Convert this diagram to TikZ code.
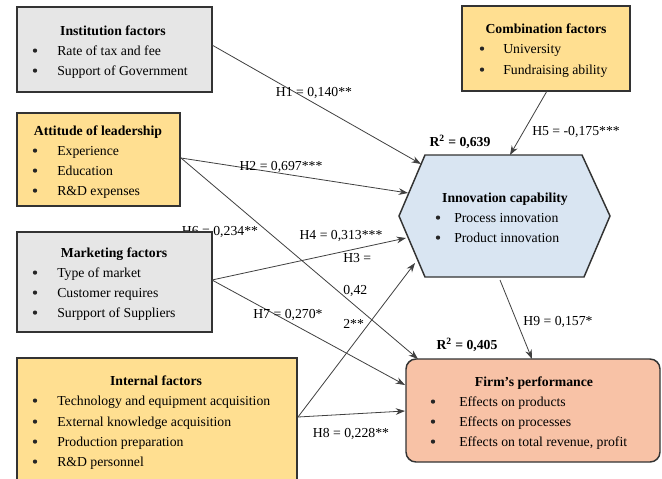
\documentclass[tikz,border=0pt]{standalone}
\usepackage{fontspec}
\setmainfont{Liberation Serif}
\usetikzlibrary{arrows.meta,fit}
\definecolor{gfill}{HTML}{E6E6E6}
\definecolor{ofill}{HTML}{FFDF91}
\definecolor{bfill}{HTML}{D9E5F2}
\definecolor{sfill}{HTML}{F8C2A6}
\definecolor{edge}{HTML}{333333}
\definecolor{ln}{HTML}{404040}
\begin{document}
\begin{tikzpicture}[x=0.75pt,y=-0.75pt, font=\fontsize{10.3}{12}\selectfont,
 box/.style={draw=edge, line width=1.1pt, inner sep=0pt},
 gbox/.style={box, fill=gfill},
 obox/.style={box, fill=ofill},
 ttl/.style={anchor=base, inner sep=0pt, font=\fontsize{10.3}{12}\selectfont\bfseries},
 itm/.style={anchor=base west, inner sep=0pt},
 bul/.style={circle, fill=black!85, inner sep=0pt, minimum size=3.2pt, yshift=3.3pt},
 lab/.style={anchor=base, inner sep=0pt},
 labl/.style={anchor=base west, inner sep=0pt},
 conn/.style={draw=ln, line width=0.6pt, -{Stealth[length=7pt,width=5pt]}}]
\useasboundingbox (0,0) rectangle (662,479);
\clip (0,0) rectangle (662,479);
\fill[white] (0,0) rectangle (662,479);

% label partly hidden by the marketing box
\node[lab] (h6) at (220,235) {H6 = 0,234**};

% boxes
\node[gbox, fit={(17,7) (212,92)}] (inst) {};
\node[obox, fit={(17,113) (180,206)}] (att) {};
\node[gbox, fit={(17,232) (212,332)}] (mkt) {};
\node[obox, fit={(17,358) (297,530)}] (intl) {};
\node[obox, fit={(462,6) (630,91)}] (comb) {};
\node[box, fill=sfill, rounded corners=7.5pt, fit={(406,359) (660,462)}] (firm) {};
\draw[box, fill=bfill] (425,155) -- (582,155) -- (610,216) -- (584,277) -- (425,277) -- (399,216) -- cycle;
\node[inner sep=0pt, fit={(399,155) (610,277)}] (innov) {};

% Institution
\node[ttl] (t1) at (113,35) {Institution factors};
\node[bul] (b1a) at (35,55) {};
\node[itm] (i1a) at (57,55) {Rate of tax and fee};
\node[bul] (b1b) at (35,75) {};
\node[itm] (i1b) at (57,75) {Support of Government};

% Attitude
\node[ttl] (t2) at (98,135) {Attitude of leadership};
\node[bul] (b2a) at (35,155) {};
\node[itm] (i2a) at (57,155) {Experience};
\node[bul] (b2b) at (35,175) {};
\node[itm] (i2b) at (57,175) {Education};
\node[bul] (b2c) at (35,195) {};
\node[itm] (i2c) at (57,195) {R\&D expenses};

% Marketing
\node[ttl] (t3) at (114,257) {Marketing factors};
\node[bul] (b3a) at (35,277) {};
\node[itm] (i3a) at (57,277) {Type of market};
\node[bul] (b3b) at (35,297) {};
\node[itm] (i3b) at (57,297) {Customer requires};
\node[bul] (b3c) at (35,317) {};
\node[itm] (i3c) at (57,317) {Surpport of Suppliers};

% Internal
\node[ttl] (t4) at (156,385) {Internal factors};
\node[bul] (b4a) at (35,405) {};
\node[itm] (i4a) at (57,405) {Technology and equipment acquisition};
\node[bul] (b4b) at (35,426) {};
\node[itm] (i4b) at (57,426) {External knowledge acquisition};
\node[bul] (b4c) at (35,446) {};
\node[itm] (i4c) at (57,446) {Production preparation};
\node[bul] (b4d) at (35,466) {};
\node[itm] (i4d) at (57,466) {R\&D personnel};

% Combination
\node[ttl] (t5) at (546,33) {Combination factors};
\node[bul] (b5a) at (482,53) {};
\node[itm] (i5a) at (503,53) {University};
\node[bul] (b5b) at (482,74) {};
\node[itm] (i5b) at (503,74) {Fundraising ability};

% Innovation
\node[ttl] (t6) at (505,202) {Innovation capability};
\node[bul] (b6a) at (438,222) {};
\node[itm] (i6a) at (454,222) {Process innovation};
\node[bul] (b6b) at (438,242) {};
\node[itm] (i6b) at (454,242) {Product innovation};

% Firm
\node[ttl] (t7) at (534,386) {Firm's performance};
\node[bul] (b7a) at (433,406) {};
\node[itm] (i7a) at (459,406) {Effects on products};
\node[bul] (b7b) at (433,426) {};
\node[itm] (i7b) at (459,426) {Effects on processes};
\node[bul] (b7c) at (433,446) {};
\node[itm] (i7c) at (459,446) {Effects on total revenue, profit};

% connector end points
\coordinate (s1) at (212,45);
\coordinate (s2) at (181,158);
\coordinate (s4) at (212,280);
\coordinate (s3) at (298,417);
\coordinate (s5) at (547,91);
\coordinate (s9) at (500,280);
\coordinate (e1) at (421,164);
\coordinate (e2) at (408,193);
\coordinate (e6) at (418,359);
\coordinate (e4) at (406,238);
\coordinate (e7) at (405,385);
\coordinate (e3) at (415,263);
\coordinate (e8) at (405,411);
\coordinate (e5) at (510,155);
\coordinate (e9) at (532,359);

\draw[conn] (s1) -- (e1);
\draw[conn] (s2) -- (e2);
\draw[conn] (s2) -- (e6);
\draw[conn] (s4) -- (e4);
\draw[conn] (s4) -- (e7);
\draw[conn] (s3) -- (e3);
\draw[conn] (s3) -- (e8);
\draw[conn] (s5) -- (e5);
\draw[conn] (s9) -- (e9);

% labels
\node[lab] (h1) at (314,96) {H1 = 0,140**};
\node[lab] (h2) at (281,170) {H2 = 0,697***};
\node[lab] (h4) at (341,239) {H4 = 0,313***};
\node[labl] (h3a) at (343,262) {H3 =};
\node[labl] (h3b) at (343,294) {0,42};
\node[labl] (h3c) at (343,328) {2**};
\node[lab] (h7) at (288,318) {H7 = 0,270*};
\node[lab] (h8) at (351,437) {H8 = 0,228**};
\node[lab] (h5) at (576,135) {H5 = -0,175***};
\node[lab] (h9) at (558,325) {H9 = 0,157*};
\node[lab, font=\fontsize{10.3}{12}\selectfont\bfseries] (r1) at (460,146) {R\textsuperscript{2} = 0,639};
\node[lab, font=\fontsize{10.3}{12}\selectfont\bfseries] (r2) at (467,349) {R\textsuperscript{2} = 0,405};
\end{tikzpicture}
\end{document}
